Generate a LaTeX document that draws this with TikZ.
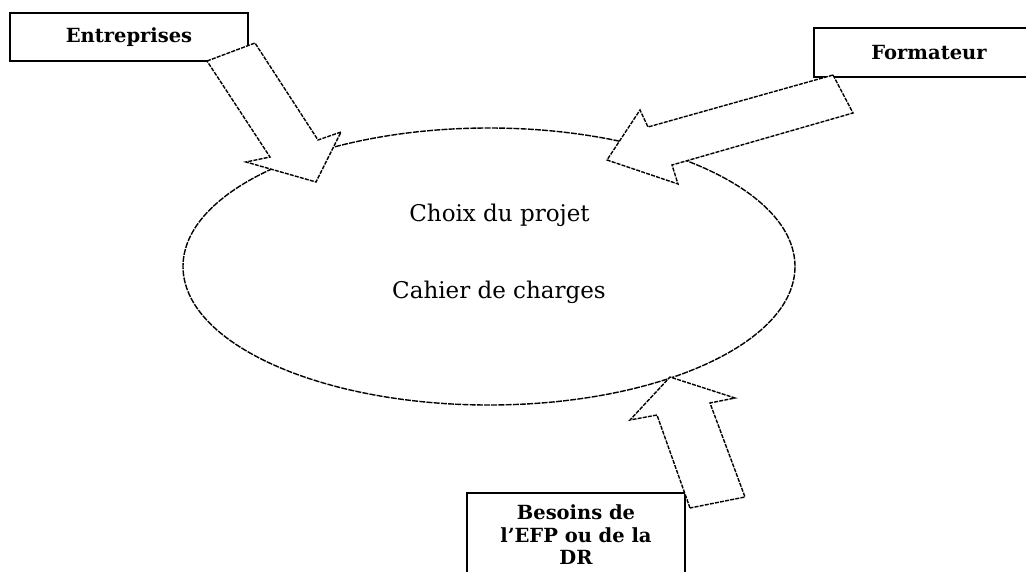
\documentclass[tikz,border=0pt]{standalone}
\usepackage{fontspec}
\setmainfont{DejaVu Serif}
\usetikzlibrary{shapes.geometric}
\tikzset{
  box/.style={draw, line width=1.5pt, rectangle, inner sep=0pt, outer sep=0pt,
    font=\bfseries\fontsize{19.5}{22.5}\selectfont, align=center},
  blockarrow/.style={draw, fill=white, line width=1.4pt, dash pattern=on 4pt off 1.2pt, line join=miter},
  oval/.style={draw, ellipse, line width=1.4pt, dash pattern=on 6pt off 1.2pt, inner sep=0pt, outer sep=0pt},
  label/.style={font=\fontsize{23}{26}\selectfont, inner sep=0pt}
}
\begin{document}
\begin{tikzpicture}[x=1pt,y=-1pt]
\clip (0,0) rectangle (1026,571);
\fill[white] (0,0) rectangle (1026,571);
% central ellipse
\node[oval, minimum width=612pt, minimum height=277pt] (proj) at (489,266.5) {};
\node[label] (choix) at (499.5,215) {Choix du projet};
\node[label] (cahier) at (499,292) {Cahier de charges};
% boxes
\node[box, minimum width=238pt, minimum height=48pt] (ent) at (129,37) {Entreprises};
\node[box, minimum width=230pt, minimum height=49pt] (form) at (929,52.5) {Formateur};
\node[box, minimum width=218pt, minimum height=84pt] (bes) at (576,535) {Besoins de\\l'EFP ou de la\\DR};
% block arrows
\draw[blockarrow] (207,61) -- (255,43) -- (318,140) -- (341,132) -- (316,182) -- (246,162) -- (270,157) -- cycle;
\draw[blockarrow] (833,75) -- (853,113) -- (672,165) -- (678,184) -- (607,160) -- (640,110) -- (648,127) -- cycle;
\draw[blockarrow] (690,508) -- (657,415) -- (630,420) -- (670,377) -- (735,398) -- (710,403) -- (745,497) -- cycle;
\end{tikzpicture}
\end{document}
